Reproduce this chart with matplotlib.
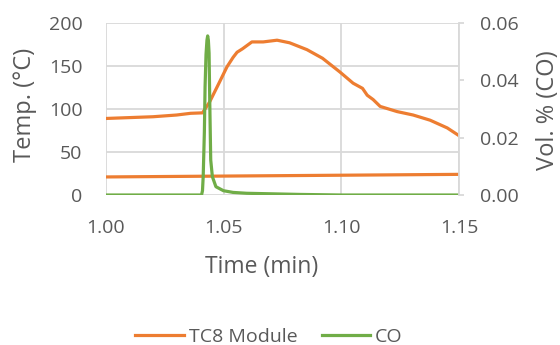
import numpy as np
import matplotlib.pyplot as plt

plt.rcParams['font.family'] = ['Open Sans', 'DejaVu Sans']

# TC8 Module temperature (deg C)
tc8_time = [1.000, 1.010, 1.020, 1.030, 1.036, 1.041, 1.044, 1.048, 1.0514, 1.054,
            1.0557, 1.058, 1.062, 1.0668, 1.0727, 1.078, 1.0854, 1.092, 1.0994,
            1.105, 1.109, 1.111, 1.1135, 1.1165, 1.1237, 1.1305, 1.1377, 1.145, 1.150]
tc8_temp = [89, 90, 91, 93, 95, 95.5, 108, 130, 149, 160,
            166, 170, 178, 178, 180, 177, 169, 159, 143,
            130, 124, 116, 111, 103, 97, 93, 87, 78, 69]
# second (ambient) trace of the same series
amb_time = [1.00, 1.05, 1.10, 1.15]
amb_temp = [21, 22, 23, 24]

# CO concentration (vol. %)
co_time = [1.000, 1.0406, 1.0410, 1.0413, 1.0418, 1.0421, 1.0425, 1.0429, 1.0432,
           1.0435, 1.0438, 1.0441, 1.0445, 1.0452, 1.0467, 1.0499, 1.054, 1.0598,
           1.0824, 1.100, 1.150]
co_vol = [0.0, 0.0, 0.0015, 0.0064, 0.022, 0.0378, 0.049, 0.054, 0.0555,
          0.054, 0.0495, 0.032, 0.0122, 0.0064, 0.0029, 0.0015, 0.0009, 0.0006,
          0.0002, 0.0, 0.0]

orange = '#ED7D31'
green = '#70AD47'
txt = '#595959'
grid = '#D9D9D9'

fig = plt.figure(figsize=(5.6, 3.45), dpi=100)
ax = fig.add_axes([106 / 560, 150 / 345, 353 / 560, 172 / 345])
ax2 = ax.twinx()

l1, = ax.plot(tc8_time, tc8_temp, color=orange, lw=2.3, label='TC8 Module')
ax.plot(amb_time, amb_temp, color=orange, lw=2.3)
l2, = ax2.plot(co_time, co_vol, color=green, lw=2.3, label='CO')

ax.set_xlim(1.0, 1.15)
ax.set_ylim(0, 200)
ax2.set_ylim(0, 0.06)
ax.set_xticks([1.00, 1.05, 1.10, 1.15])
ax.set_yticks([0, 50, 100, 150, 200])
ax2.set_yticks([0, 0.02, 0.04, 0.06])
ax.xaxis.set_major_formatter(plt.FormatStrFormatter('%.2f'))
ax2.yaxis.set_major_formatter(plt.FormatStrFormatter('%.2f'))

ax.grid(True, color=grid, lw=1.3)
ax.set_axisbelow(True)
for a in (ax, ax2):
    for s in a.spines.values():
        s.set_visible(False)
ax2.spines['right'].set_visible(True)
ax2.spines['right'].set_color(grid)
ax2.spines['right'].set_linewidth(1.3)

ax.tick_params(axis='y', length=0, labelsize=14, labelcolor=txt, pad=17)
ax.tick_params(axis='x', length=0, labelsize=14, labelcolor=txt, pad=17)
ax2.tick_params(axis='y', length=3.6, width=1.3, color=grid, labelsize=14,
                labelcolor=txt, pad=11.5)

ax.set_xlabel('Time (min)', fontsize=16.5, color=txt)
ax.set_ylabel('Temp. (°C)', fontsize=17, color=txt)
ax2.set_ylabel('Vol. % (CO)', fontsize=17, color=txt)
ax.xaxis.set_label_coords(0.442, (195 - 255) / 172)
ax.yaxis.set_label_coords((37 - 106) / 353, 0.523)
ax2.yaxis.set_label_coords((536 - 106) / 353, 0.494)

fig.legend(handles=[l1, l2], loc='center', bbox_to_anchor=(269 / 560, 1 - 337 / 345),
           ncol=2, frameon=False, fontsize=14, labelcolor=txt, handlelength=2.5,
           handletextpad=0.26, columnspacing=1.24)

fig.savefig('out.png', dpi=100)
